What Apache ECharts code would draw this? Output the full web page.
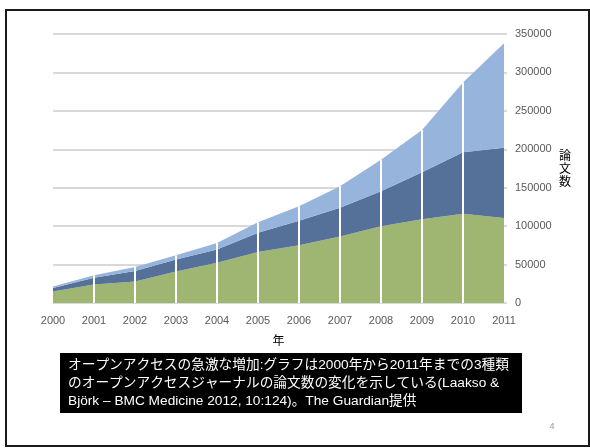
<!DOCTYPE html>
<html>
<head>
<meta charset="utf-8">
<script src="https://cdn.jsdelivr.net/npm/echarts@6/dist/echarts.min.js"></script>
<style>
  html, body { margin: 0; padding: 0; background: #ffffff; }
  #chart { width: 590px; height: 448px; }
</style>
</head>
<body>
<div id="chart"></div>
<script>
// Years on the horizontal axis
const years = ['2000', '2001', '2002', '2003', '2004', '2005', '2006', '2007', '2008', '2009', '2010', '2011'];

// Articles per year for the three open access journal types (stacked bottom to top)
const typeGreen = [15000, 24000, 28000, 41000, 52500, 66500, 75000, 86500, 100000, 109000, 116000, 110500];
const typeDarkBlue = [4500, 9000, 13500, 15500, 17000, 25000, 32000, 37500, 45500, 61000, 80000, 91500];
const typeLightBlue = [2000, 3000, 5500, 5500, 8500, 13500, 19000, 28000, 41000, 55000, 91000, 136000];

// Value axis ticks
const yMin = 0;
const yMax = 350000;
const yStep = 50000;

// Texts
const xName = '年';
const yName = '論文数';
const caption = 'オープンアクセスの急激な増加:グラフは2000年から2011年までの3種類\nのオープンアクセスジャーナルの論文数の変化を示している(Laakso &\nBjörk – BMC Medicine 2012, 10:124)。The Guardian提供';
const pageNo = '4';

// Stacked totals, used for the white year dividers (not at the two ends)
const totals = years.map((_, i) => typeGreen[i] + typeDarkBlue[i] + typeLightBlue[i]);
const dividers = totals.map((v, i) => (i === 0 || i === years.length - 1) ? '-' : v);

const chart = echarts.init(document.getElementById('chart'), null, { renderer: 'canvas' });

const areaSeries = (name, data, color) => ({
  name: name,
  type: 'line',
  stack: 'total',
  data: data,
  symbol: 'none',
  lineStyle: { width: 0 },
  areaStyle: { color: color, opacity: 1 },
  silent: true,
  z: 2
});

chart.setOption({
  animation: false,
  backgroundColor: '#ffffff',
  textStyle: { fontFamily: '"Liberation Sans", "Noto Sans CJK JP", sans-serif' },
  grid: { left: 53, right: 86, top: 34, bottom: 145 },
  xAxis: {
    type: 'category',
    data: years,
    boundaryGap: false,
    axisLine: { show: false },
    axisTick: { show: false },
    axisLabel: { color: '#595959', fontSize: 11, margin: 12 },
    name: xName,
    nameLocation: 'middle',
    nameGap: 31,
    nameTextStyle: { color: '#000000', fontSize: 12, fontFamily: '"Noto Sans CJK JP", sans-serif' }
  },
  yAxis: {
    type: 'value',
    position: 'right',
    min: yMin,
    max: yMax,
    interval: yStep,
    axisLine: { show: false },
    axisTick: { show: true, length: 3, lineStyle: { color: '#d9d9d9', width: 2 } },
    axisLabel: { color: '#595959', fontSize: 11, margin: 11, formatter: v => String(v) },
    splitLine: { show: true, lineStyle: { color: '#d9d9d9', width: 2 } },
    name: yName.split('').join('\n'),
    nameLocation: 'middle',
    nameRotate: 0,
    nameGap: 55,
    nameTextStyle: { color: '#000000', fontSize: 12, lineHeight: 13, fontFamily: '"Noto Sans CJK JP", sans-serif' }
  },
  series: [
    areaSeries('green', typeGreen, '#9fb672'),
    areaSeries('darkblue', typeDarkBlue, '#55719a'),
    areaSeries('lightblue', typeLightBlue, '#96b4dc'),
    {
      name: 'dividers',
      type: 'bar',
      data: dividers,
      barWidth: 2,
      itemStyle: { color: '#ffffff' },
      silent: true,
      z: 3
    }
  ],
  graphic: [
    {
      type: 'rect',
      shape: { x: 6, y: 10, width: 583, height: 436 },
      style: { fill: 'none', stroke: '#1a1a1a', lineWidth: 2 },
      silent: true
    },
    {
      type: 'rect',
      shape: { x: 60, y: 353, width: 462, height: 60 },
      style: { fill: '#000000' },
      silent: true
    },
    {
      type: 'text',
      x: 68,
      y: 356,
      style: {
        text: caption,
        fill: '#ffffff',
        fontSize: 13.7,
        lineHeight: 18,
        fontFamily: '"Liberation Sans", "Noto Sans CJK JP", sans-serif'
      },
      silent: true
    },
    {
      type: 'text',
      x: 552,
      y: 427,
      style: {
        text: pageNo,
        fill: '#9a9a9a',
        fontSize: 9,
        align: 'center',
        verticalAlign: 'middle'
      },
      silent: true
    }
  ]
});
</script>
</body>
</html>
